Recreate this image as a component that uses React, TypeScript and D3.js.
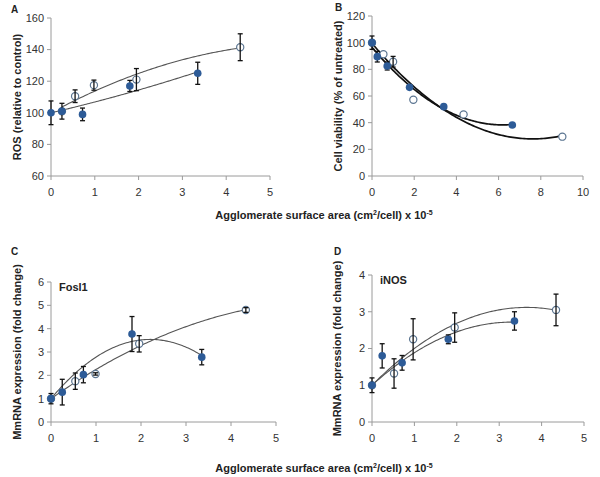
import React from 'react';
import * as d3 from 'd3';

// ---- data ----
// Panel A: ROS
const aFilledX = [0, 0.25, 0.72, 1.8, 3.35];
const aFilledY = [100, 101, 99, 117, 125];
const aFilledErr = [7.5, 5, 4, 3.5, 7];
const aOpenX = [0.25, 0.55, 0.98, 1.95, 4.32];
const aOpenY = [101, 110.5, 117.5, 121, 141.5];
const aOpenErr = [0, 4, 3.2, 7, 8.5];

// Panel B: cell viability
const bFilledX = [0, 0.25, 0.72, 1.78, 3.4, 6.65];
const bFilledY = [100, 89.5, 82.5, 66.5, 52, 38.3];
const bFilledErr = [5, 4, 3, 0, 0, 0];
const bOpenX = [0, 0.54, 1.0, 1.96, 4.34, 9.02];
const bOpenY = [100, 91.3, 85.7, 57.2, 46.2, 29.5];
const bOpenErr = [0, 0, 4, 0, 0, 0];

// Panel C: Fosl1
const cFilledX = [0, 0.25, 0.72, 1.8, 3.35];
const cFilledY = [1.0, 1.28, 2.03, 3.77, 2.78];
const cFilledErr = [0.22, 0.55, 0.35, 0.75, 0.33];
const cOpenX = [0, 0.54, 0.99, 1.96, 4.33];
const cOpenY = [1.0, 1.75, 2.06, 3.35, 4.8];
const cOpenErr = [0, 0.35, 0.05, 0.35, 0.1];

// Panel D: iNOS
const dFilledX = [0, 0.24, 0.71, 1.8, 3.36];
const dFilledY = [1.0, 1.8, 1.61, 2.25, 2.75];
const dFilledErr = [0.2, 0.33, 0.2, 0.12, 0.25];
const dOpenX = [0, 0.52, 0.97, 1.95, 4.34];
const dOpenY = [1.0, 1.32, 2.25, 2.57, 3.05];
const dOpenErr = [0, 0.4, 0.56, 0.4, 0.43];

const xLabel = 'Agglomerate surface area (cm';

const FILL = '#2d5b97';
const OPEN = '#5b7591';
const FONT = '"Liberation Sans", Arial, sans-serif';

// least squares quadratic trend y = a + b x + c x^2 (a fixed when given)
function quadFit(xs: number[], ys: number[], a0?: number) {
  const sum = (f: (x: number, y: number) => number) => d3.sum(xs, (x, i) => f(x, ys[i]));
  if (a0 !== undefined) {
    const s2 = sum(x => x * x), s3 = sum(x => x ** 3), s4 = sum(x => x ** 4);
    const t1 = sum((x, y) => x * (y - a0)), t2 = sum((x, y) => x * x * (y - a0));
    const D = s2 * s4 - s3 * s3;
    const b = (t1 * s4 - s3 * t2) / D, c = (s2 * t2 - s3 * t1) / D;
    return (x: number) => a0 + b * x + c * x * x;
  }
  const s0 = xs.length, s1 = sum(x => x), s2 = sum(x => x * x), s3 = sum(x => x ** 3), s4 = sum(x => x ** 4);
  const t0 = sum((x, y) => y), t1 = sum((x, y) => x * y), t2 = sum((x, y) => x * x * y);
  const det3 = (m: number[][]) =>
    m[0][0] * (m[1][1] * m[2][2] - m[1][2] * m[2][1]) -
    m[0][1] * (m[1][0] * m[2][2] - m[1][2] * m[2][0]) +
    m[0][2] * (m[1][0] * m[2][1] - m[1][1] * m[2][0]);
  const M = [[s0, s1, s2], [s1, s2, s3], [s2, s3, s4]];
  const T = [t0, t1, t2];
  const D = det3(M);
  const col = (k: number) => M.map((row, i) => row.map((v, j) => (j === k ? T[i] : v)));
  const a = det3(col(0)) / D, b = det3(col(1)) / D, c = det3(col(2)) / D;
  return (x: number) => a + b * x + c * x * x;
}

type Series = { x: number[]; y: number[]; err: number[] };

type PanelProps = {
  letter: string;
  xRange: [number, number];
  yRange: [number, number];
  xMax: number;
  yDomain: [number, number];
  xTicks: number[];
  yTicks: number[];
  yTitle: string;
  titleX: number;
  letterPos: [number, number];
  filled: Series;
  open: Series;
  intercept?: number;
  curveColor: string;
  curveWidth: number;
  capW: number;
  gene?: string;
};

const Panel = (p: PanelProps) => {
  const x = d3.scaleLinear().domain([0, p.xMax]).range(p.xRange);
  const y = d3.scaleLinear().domain(p.yDomain).range(p.yRange);
  const curve = (s: Series) => {
    const f = quadFit(s.x, s.y, p.intercept);
    const x0 = d3.min(s.x)!, x1 = d3.max(s.x)!;
    const pts = d3.range(0, 101).map(i => x0 + (x1 - x0) * i / 100);
    return d3.line<number>().x(v => x(v)).y(v => y(f(v)))(pts)!;
  };
  const errBars = (s: Series) =>
    s.x.map((v, i) => {
      const e = s.err[i];
      if (!e) return null;
      const cx = x(v);
      const top = y(s.y[i] + e), bot = y(s.y[i] - e);
      return (
        <g key={i} stroke="#111" strokeWidth={1.3}>
          <line x1={cx} x2={cx} y1={top} y2={bot} />
          <line x1={cx - p.capW} x2={cx + p.capW} y1={top} y2={top} />
          <line x1={cx - p.capW} x2={cx + p.capW} y1={bot} y2={bot} />
        </g>
      );
    });
  const yMid = (p.yRange[0] + p.yRange[1]) / 2;
  return (
    <g fontFamily={FONT}>
      <text x={p.letterPos[0]} y={p.letterPos[1]} fontSize={10} fontWeight="bold" fill="#222">{p.letter}</text>
      {/* axes */}
      <line x1={p.xRange[0]} x2={p.xRange[0]} y1={p.yRange[0]} y2={p.yRange[1]} stroke="#9a9a9a" strokeWidth={1} />
      <line x1={p.xRange[0]} x2={p.xRange[1]} y1={p.yRange[0]} y2={p.yRange[0]} stroke="#9a9a9a" strokeWidth={1} />
      {p.yTicks.map(t => (
        <g key={'y' + t}>
          <line x1={p.xRange[0] - 4} x2={p.xRange[0]} y1={y(t)} y2={y(t)} stroke="#9a9a9a" />
          <text x={p.xRange[0] - 7} y={y(t)} dy="0.35em" textAnchor="end" fontSize={11} fill="#333">{t}</text>
        </g>
      ))}
      {p.xTicks.map(t => (
        <g key={'x' + t}>
          <line x1={x(t)} x2={x(t)} y1={p.yRange[0]} y2={p.yRange[0] + 4} stroke="#9a9a9a" />
          <text x={x(t)} y={p.yRange[0] + 16} dy="0.35em" textAnchor="middle" fontSize={11} fill="#333">{t}</text>
        </g>
      ))}
      <text transform={`translate(${p.titleX},${yMid}) rotate(-90)`} textAnchor="middle" dy="0.35em" fontSize={11} fontWeight="bold" fill="#222">{p.yTitle}</text>
      {p.gene && (
        <text x={p.xRange[0] + 8} y={p.yRange[1] + 5} dy="0.35em" fontSize={11} fontWeight="bold" fill="#222">{p.gene}</text>
      )}
      {/* fits */}
      <path d={curve(p.filled)} fill="none" stroke={p.curveColor} strokeWidth={p.curveWidth} />
      <path d={curve(p.open)} fill="none" stroke={p.curveColor} strokeWidth={p.curveWidth} />
      {/* open markers */}
      {p.open.x.map((v, i) => (
        <circle key={'o' + i} cx={x(v)} cy={y(p.open.y[i])} r={3.6} fill="#fff" stroke={OPEN} strokeWidth={1.2} />
      ))}
      {errBars(p.open)}
      {errBars(p.filled)}
      {p.filled.x.map((v, i) => (
        <circle key={'f' + i} cx={x(v)} cy={y(p.filled.y[i])} r={3.8} fill={FILL} />
      ))}
    </g>
  );
};

const XTitle = ({ y }: { y: number }) => (
  <text x={324} y={y} dy="0.35em" textAnchor="middle" fontFamily={FONT} fontSize={11} fontWeight="bold" fill="#222">
    {xLabel}
    <tspan dy="-4" fontSize={7}>2</tspan>
    <tspan dy="4">/cell) x 10</tspan>
    <tspan dy="-4" fontSize={7}>-5</tspan>
  </text>
);

export default function App() {
  return (
    <svg width={600} height={477} style={{ display: 'block', position: 'absolute', left: 0, top: 0, background: '#fff' }}>
      <Panel
        letter="A" letterPos={[11, 13]}
        xRange={[51, 270]} yRange={[176, 18]} xMax={5} yDomain={[60, 160]}
        xTicks={[0, 1, 2, 3, 4, 5]} yTicks={[60, 80, 100, 120, 140, 160]}
        yTitle="ROS (relative to control)" titleX={17}
        filled={{ x: aFilledX, y: aFilledY, err: aFilledErr }}
        open={{ x: aOpenX, y: aOpenY, err: aOpenErr }}
        intercept={100}
        curveColor="#555" curveWidth={1.1} capW={2.5}
      />
      <Panel
        letter="B" letterPos={[335, 11]}
        xRange={[372, 583]} yRange={[176, 16]} xMax={10} yDomain={[0, 120]}
        xTicks={[0, 2, 4, 6, 8, 10]} yTicks={[0, 20, 40, 60, 80, 100, 120]}
        yTitle="Cell viability (% of untreated)" titleX={338}
        filled={{ x: bFilledX, y: bFilledY, err: bFilledErr }}
        open={{ x: bOpenX, y: bOpenY, err: bOpenErr }}
        curveColor="#111" curveWidth={1.7} capW={2.5}
      />
      <XTitle y={215} />
      <Panel
        letter="C" letterPos={[11, 255]}
        xRange={[51, 276]} yRange={[422, 282]} xMax={5} yDomain={[0, 6]}
        xTicks={[0, 1, 2, 3, 4, 5]} yTicks={[0, 1, 2, 3, 4, 5, 6]}
        yTitle="MmRNA expression (fold change)" titleX={17} gene="Fosl1"
        filled={{ x: cFilledX, y: cFilledY, err: cFilledErr }}
        open={{ x: cOpenX, y: cOpenY, err: cOpenErr }}
        intercept={1}
        curveColor="#555" curveWidth={1.1} capW={2.5}
      />
      <Panel
        letter="D" letterPos={[334, 255]}
        xRange={[372, 584]} yRange={[422, 275]} xMax={5} yDomain={[0, 4]}
        xTicks={[0, 1, 2, 3, 4, 5]} yTicks={[0, 1, 2, 3, 4]}
        yTitle="MmRNA expression (fold change)" titleX={337} gene="iNOS"
        filled={{ x: dFilledX, y: dFilledY, err: dFilledErr }}
        open={{ x: dOpenX, y: dOpenY, err: dOpenErr }}
        intercept={1}
        curveColor="#555" curveWidth={1.1} capW={2.5}
      />
      <XTitle y={468} />
    </svg>
  );
}
